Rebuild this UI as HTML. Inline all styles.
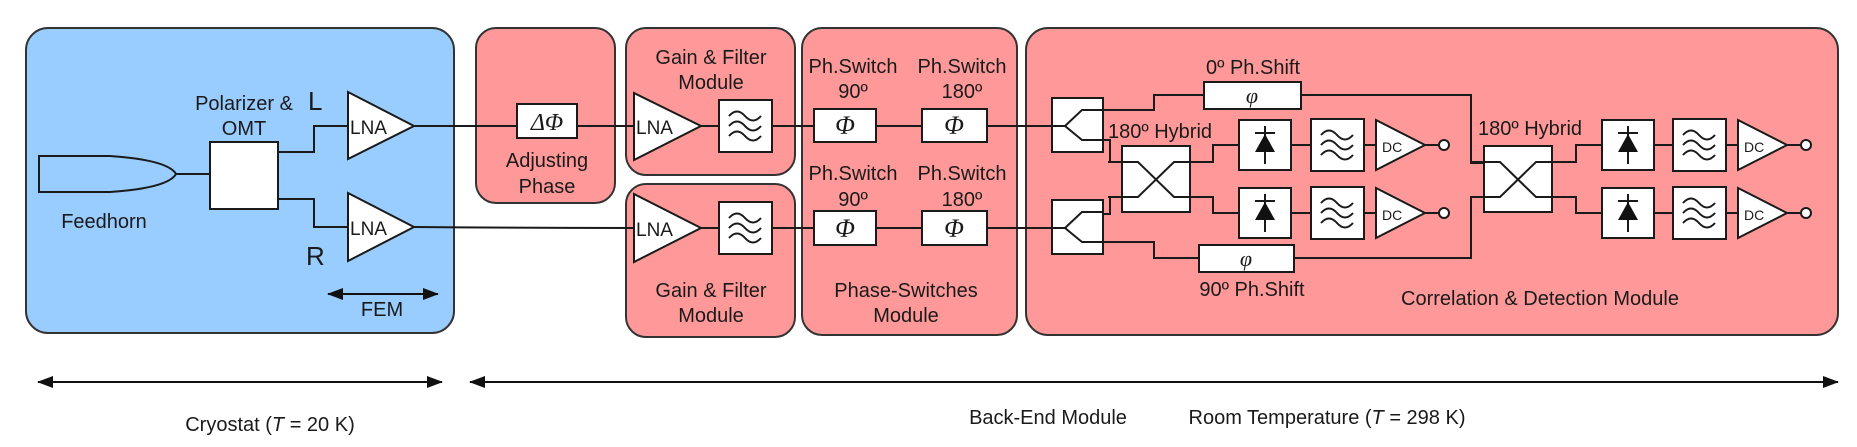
<!DOCTYPE html>
<html><head><meta charset="utf-8"><style>
html,body{margin:0;padding:0;background:#fff;}
svg{display:block;}
text{font-family:"Liberation Sans",Arial,sans-serif;font-size:20px;fill:#1a1a1a;}
.s{stroke:#1a1a1a;stroke-width:2;fill:none;}
.b{stroke:#1a1a1a;stroke-width:2;fill:#fff;}
.ph{font-family:"Liberation Serif",serif;font-style:italic;font-size:26px;}
</style></head><body>
<svg width="1857" height="447" viewBox="0 0 1857 447" xmlns="http://www.w3.org/2000/svg">
<defs>
<marker id="ah" markerWidth="16" markerHeight="14" refX="15" refY="7" orient="auto-start-reverse" markerUnits="userSpaceOnUse"><path d="M0,1 L16,7 L0,13 Z" fill="#111"/></marker>
<g id="filt"><rect class="b" x="0" y="0" width="53" height="52"/>
<path class="s" d="M10,16 q8,-9 16,0 t16,0 M10,26 q8,-9 16,0 t16,0 M10,36 q8,-9 16,0 t16,0"/></g>
<g id="diode"><rect class="b" x="0" y="0" width="52" height="50"/>
<path d="M26,6 V44" class="s"/><path d="M16,13 H36" class="s"/><path d="M26,14 L16,32 H36 Z" fill="#111"/></g>
<g id="dc"><path class="b" d="M0,0 L49,25 L0,50 Z"/><text x="6" y="32" style="font-size:14px">DC</text>
<path class="s" d="M49,25 H63"/><circle cx="68" cy="25" r="5" class="b"/></g>
<g id="hyb"><rect class="b" x="0" y="0" width="68" height="66"/>
<path class="s" d="M-14,16 H16 L52,51 H68 M-14,51 H16 L52,16 H68"/></g>
<g id="split"><rect class="b" x="0" y="0" width="51" height="54"/>
<path class="s" d="M-66,28 H13 L30,12 H51 M13,28 L30,42 H51"/></g>
</defs>

<rect x="26" y="28" width="428" height="305" rx="22" fill="#99ccff" stroke="#333" stroke-width="2"/>
<rect x="476" y="28" width="139" height="175" rx="20" fill="#ff9999" stroke="#333" stroke-width="2"/>
<rect x="626" y="28" width="169" height="147" rx="20" fill="#ff9999" stroke="#333" stroke-width="2"/>
<rect x="626" y="184" width="169" height="153" rx="20" fill="#ff9999" stroke="#333" stroke-width="2"/>
<rect x="802" y="28" width="215" height="307" rx="20" fill="#ff9999" stroke="#333" stroke-width="2"/>
<rect x="1026" y="28" width="812" height="307" rx="22" fill="#ff9999" stroke="#333" stroke-width="2"/>

<path class="s" d="M39,156 H110 Q168,160 176,174 Q168,188 110,192 H39 Z"/>
<path class="s" d="M176,174 H210"/>
<rect class="b" x="210" y="142" width="68" height="67"/>
<path class="s" d="M278,152 H314 V126 H348 M278,199 H314 V227 H348"/>
<path class="b" d="M348,92 L414,126 L348,159 Z"/>
<path class="b" d="M348,193 L414,227 L348,261 Z"/>
<text x="350" y="134" style="font-size:19px">LNA</text>
<text x="350" y="235" style="font-size:19px">LNA</text>
<text x="244" y="110" text-anchor="middle">Polarizer &amp;</text>
<text x="244" y="135" text-anchor="middle">OMT</text>
<text x="308" y="110" style="font-size:26px">L</text>
<text x="306" y="265" style="font-size:26px">R</text>
<text x="104" y="228" text-anchor="middle">Feedhorn</text>
<line x1="328" y1="294" x2="438" y2="294" stroke="#111" stroke-width="2" marker-start="url(#ah)" marker-end="url(#ah)"/>
<text x="382" y="316" text-anchor="middle">FEM</text>

<path class="s" d="M414,126 H517 M577,126 H634 M701,126 H719 M772,126 H814 M876,126 H922 M987,126 H1000"/>
<path class="s" d="M414,227 Q520,228 634,228 M701,228 H719 M772,228 H814 M876,228 H922 M987,228 H1000"/>

<rect class="b" x="517" y="104" width="60" height="34"/>
<text x="547" y="130" text-anchor="middle" class="ph" style="font-size:24px">ΔΦ</text>
<text x="547" y="167" text-anchor="middle">Adjusting</text>
<text x="547" y="193" text-anchor="middle">Phase</text>

<path class="b" d="M634,93 L701,126 L634,160 Z"/>
<path class="b" d="M634,194 L701,228 L634,262 Z"/>
<text x="636" y="134" style="font-size:19px">LNA</text>
<text x="636" y="236" style="font-size:19px">LNA</text>
<use href="#filt" x="719" y="100"/>
<use href="#filt" x="719" y="202"/>
<text x="711" y="64" text-anchor="middle">Gain &amp; Filter</text>
<text x="711" y="89" text-anchor="middle">Module</text>
<text x="711" y="297" text-anchor="middle">Gain &amp; Filter</text>
<text x="711" y="322" text-anchor="middle">Module</text>

<rect class="b" x="814" y="109" width="62" height="33"/>
<rect class="b" x="922" y="109" width="65" height="33"/>
<rect class="b" x="814" y="211" width="62" height="34"/>
<rect class="b" x="922" y="211" width="65" height="34"/>
<text x="845" y="134" text-anchor="middle" class="ph">Φ</text>
<text x="954" y="134" text-anchor="middle" class="ph">Φ</text>
<text x="845" y="237" text-anchor="middle" class="ph">Φ</text>
<text x="954" y="237" text-anchor="middle" class="ph">Φ</text>
<text x="853" y="73" text-anchor="middle">Ph.Switch</text>
<text x="853" y="98" text-anchor="middle">90º</text>
<text x="962" y="73" text-anchor="middle">Ph.Switch</text>
<text x="962" y="98" text-anchor="middle">180º</text>
<text x="853" y="180" text-anchor="middle">Ph.Switch</text>
<text x="853" y="206" text-anchor="middle">90º</text>
<text x="962" y="180" text-anchor="middle">Ph.Switch</text>
<text x="962" y="206" text-anchor="middle">180º</text>
<text x="906" y="297" text-anchor="middle">Phase-Switches</text>
<text x="906" y="322" text-anchor="middle">Module</text>

<path class="s" d="M1103,110 H1154 V95 H1204 M1301,95 H1471 V163 H1485"/>
<path class="s" d="M1103,140 H1110 V162 H1122"/>
<path class="s" d="M1103,214 H1110 V197 H1122"/>
<path class="s" d="M1103,242 H1154 V258 H1199 M1294,258 H1471 V197 H1485"/>
<use href="#split" x="1052" y="98"/>
<use href="#split" x="1052" y="200"/>
<rect class="b" x="1204" y="82" width="97" height="27"/>
<text x="1252" y="103" text-anchor="middle" class="ph" style="font-size:22px">φ</text>
<rect class="b" x="1199" y="245" width="95" height="27"/>
<text x="1246" y="266" text-anchor="middle" class="ph" style="font-size:22px">φ</text>
<use href="#hyb" x="1122" y="146"/>
<path class="s" d="M1190,162 H1213 V145 H1239 M1190,197 H1213 V213 H1239"/>
<use href="#diode" x="1239" y="120"/>
<use href="#diode" x="1239" y="188"/>
<path class="s" d="M1291,145 H1311 M1291,213 H1311 M1364,145 H1376 M1364,213 H1376"/>
<use href="#filt" x="1311" y="119"/>
<use href="#filt" x="1311" y="187"/>
<use href="#dc" x="1376" y="120"/>
<use href="#dc" x="1376" y="188"/>

<use href="#hyb" x="1484" y="146"/>
<path class="s" d="M1552,162 H1576 V145 H1602 M1552,197 H1576 V213 H1602"/>
<use href="#diode" x="1602" y="120"/>
<use href="#diode" x="1602" y="188"/>
<path class="s" d="M1654,145 H1673 M1654,213 H1673 M1726,145 H1738 M1726,213 H1738"/>
<use href="#filt" x="1673" y="119"/>
<use href="#filt" x="1673" y="187"/>
<use href="#dc" x="1738" y="120"/>
<use href="#dc" x="1738" y="188"/>

<text x="1253" y="74" text-anchor="middle">0º Ph.Shift</text>
<text x="1160" y="138" text-anchor="middle">180º Hybrid</text>
<text x="1530" y="135" text-anchor="middle">180º Hybrid</text>
<text x="1252" y="296" text-anchor="middle">90º Ph.Shift</text>
<text x="1540" y="305" text-anchor="middle">Correlation &amp; Detection Module</text>

<line x1="38" y1="382" x2="442" y2="382" stroke="#111" stroke-width="2" marker-start="url(#ah)" marker-end="url(#ah)"/>
<line x1="470" y1="382" x2="1838" y2="382" stroke="#111" stroke-width="2" marker-start="url(#ah)" marker-end="url(#ah)"/>
<text x="270" y="431" text-anchor="middle">Cryostat (<tspan font-style="italic">T</tspan> = 20 K)</text>
<text x="1048" y="424" text-anchor="middle">Back-End Module</text>
<text x="1327" y="424" text-anchor="middle">Room Temperature (<tspan font-style="italic">T</tspan> = 298 K)</text>
</svg>
</body></html>
